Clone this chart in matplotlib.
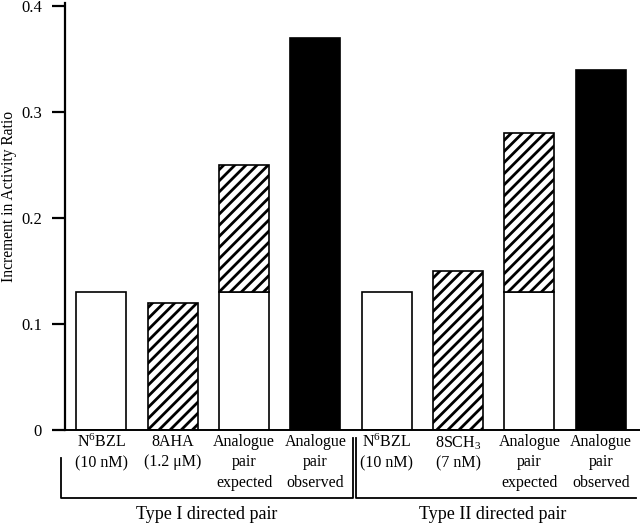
import matplotlib
matplotlib.use("Agg")
import matplotlib.pyplot as plt

plt.rcParams['font.family'] = ['Liberation Serif', 'DejaVu Serif']
plt.rcParams['mathtext.fontset'] = 'custom'
plt.rcParams['mathtext.rm'] = 'Liberation Serif'
plt.rcParams['mathtext.it'] = 'Liberation Serif:italic'
plt.rcParams['hatch.linewidth'] = 2.0

categories = ["N$^6$BZL\n(10 nM)", "8AHA\n(1.2 μM)", "Analogue\npair\nexpected",
              "Analogue\npair\nobserved", "N$^6$BZL\n(10 nM)", "8SCH$_3$\n(7 nM)",
              "Analogue\npair\nexpected", "Analogue\npair\nobserved"]
white = [0.13, 0, 0.13, 0, 0.13, 0, 0.13, 0]
hatched = [0, 0.12, 0.12, 0, 0, 0.15, 0.15, 0]
black = [0, 0, 0, 0.37, 0, 0, 0, 0.34]
yticks = [0, 0.1, 0.2, 0.3, 0.4]
ytick_labels = ["0", "0.1", "0.2", "0.3", "0.4"]
groups = ["Type I directed pair", "Type II directed pair"]

fig = plt.figure(figsize=(6.4, 5.24), dpi=100)
ax = fig.add_axes([65/640, 94/524, 575/640, 427/524])

x = list(range(len(categories)))
w = 0.7
for i in x:
    if white[i] > 0:
        ax.bar(i, white[i], w, color='white', edgecolor='black', linewidth=1.2)
    if hatched[i] > 0:
        ax.bar(i, hatched[i], w, bottom=white[i], color='white', edgecolor='black',
               hatch='///', linewidth=1.2)
    if black[i] > 0:
        ax.bar(i, black[i], w, color='black', edgecolor='black', linewidth=1.2)

ax.set_xlim(-0.51, 7.55)
ax.set_ylim(0, 0.4028)
ax.set_yticks(yticks)
ax.set_yticklabels(ytick_labels, fontsize=12)
ax.set_xticks(x)
ax.set_xticklabels(categories, fontsize=11.5, linespacing=1.35, va='top')
ax.tick_params(axis='x', length=0, pad=3)
ax.tick_params(axis='y', direction='out', length=9.5, width=1.6, pad=7)
for s in ['top', 'right']:
    ax.spines[s].set_visible(False)
ax.spines['left'].set_linewidth(1.6)
ax.spines['bottom'].set_linewidth(1.4)
ax.set_ylabel("Increment in Activity Ratio", fontsize=11.2)
ax.yaxis.set_label_coords(-0.083, 0.546)

yb = -0.064
ytop = -0.026
kw = dict(color='black', linewidth=1.3, clip_on=False)
# Type I bracket
ax.plot([-0.566, -0.566, 3.52, 3.52], [ytop, yb, yb, -0.008], **kw)
# Type II bracket
ax.plot([3.575, 3.575, 7.5], [-0.008, yb, yb], **kw)

ax.text(1.48, -0.080, groups[0], ha='center', va='center', fontsize=13)
ax.text(5.48, -0.080, groups[1], ha='center', va='center', fontsize=13)

fig.savefig("out.png", dpi=100)
